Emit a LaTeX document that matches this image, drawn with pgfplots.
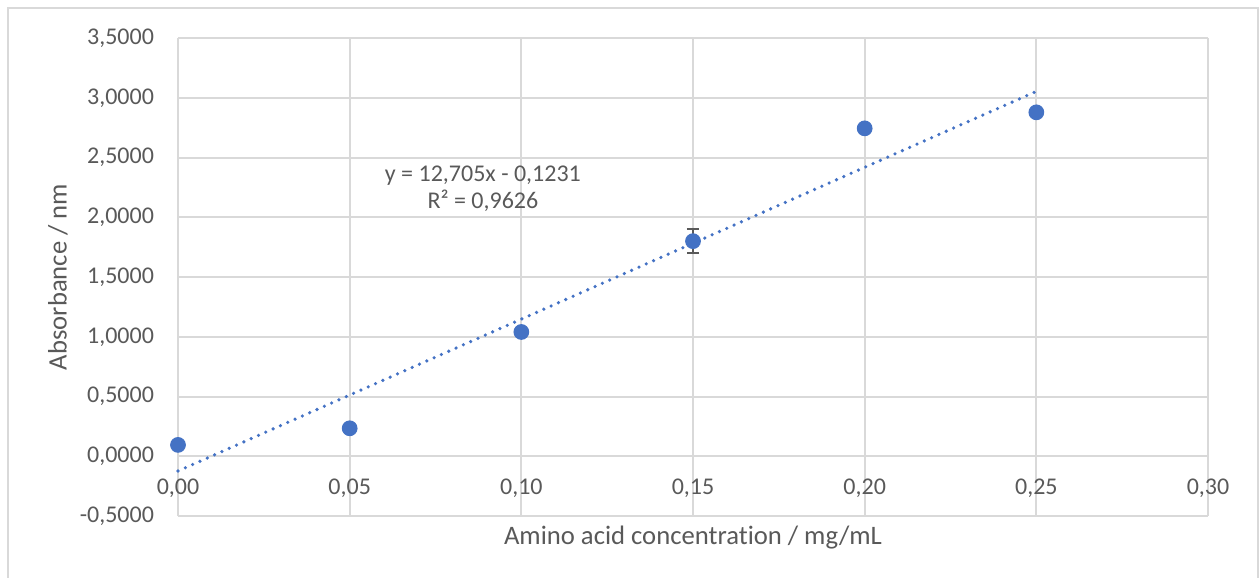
\documentclass[border=0pt]{standalone}
\usepackage{fontspec}
\setmainfont{Carlito}[Ligatures=NoCommon]
\usepackage{pgfplots}
\pgfplotsset{compat=1.18}
\definecolor{ptblue}{HTML}{4472C4}
\definecolor{txtgray}{HTML}{595959}
\definecolor{gridgray}{HTML}{D9D9D9}
\begin{document}
\begin{tikzpicture}
\useasboundingbox (0,0) rectangle (472.5pt,216.375pt);
\draw[gridgray, line width=0.75pt] (3pt,-3pt) rectangle (471.6pt,213.4pt);
\begin{axis}[
  at={(66.75pt,22.875pt)}, anchor=south west,
  scale only axis, width=386.25pt, height=179.25pt,
  xmin=0, xmax=0.3, ymin=-0.5, ymax=3.5,
  xtick={0,0.05,...,0.3}, ytick={-0.5,0,...,3.5},
  axis line style={draw=none},
  major tick length=0pt,
  grid=major,
  major grid style={gridgray, line width=0.75pt},
  tick label style={font=\fontsize{9}{11}\selectfont, text=txtgray},
  /pgf/number format/assume math mode=true,
  xticklabel style={/pgf/number format/fixed, /pgf/number format/fixed zerofill, /pgf/number format/precision=2, /pgf/number format/use comma, /pgf/number format/1000 sep={}, anchor=center, yshift=10.5pt},
  yticklabel style={/pgf/number format/fixed, /pgf/number format/fixed zerofill, /pgf/number format/precision=4, /pgf/number format/use comma, /pgf/number format/1000 sep={}, anchor=east, xshift=-5.5pt},
  every axis x label/.style={at={(axis description cs:0.5,-0.046)}, anchor=center},
  every axis y label/.style={at={(axis description cs:-0.1165,0.5)}, anchor=center, rotate=90},
  label style={font=\fontsize{10}{12}\selectfont, text=txtgray},
  xlabel={Amino acid concentration / mg/mL},
  ylabel={Absorbance / nm},
  clip=false,
]
\addplot[ptblue, line width=1.35pt, line cap=round, dash pattern=on 0pt off 3pt] coordinates {(0,-0.1231) (0.25,3.0532)};
\addplot[only marks, mark=*, mark size=2.75pt, mark options={fill=ptblue, draw=ptblue},
  error bars/.cd, y dir=both, y explicit,
  error bar style={txtgray, line width=0.6pt},
  error mark options={rotate=90, mark size=2.3pt, txtgray, line width=0.6pt}]
  coordinates {
  (0,0.095) +- (0,0)
  (0.05,0.234) +- (0,0)
  (0.10,1.040) +- (0,0)
  (0.15,1.800) +- (0,0.10)
  (0.20,2.744) +- (0,0)
  (0.25,2.878) +- (0,0)
  };
\node[align=center, font=\fontsize{9}{10.2}\selectfont, text=txtgray] at (axis cs:0.0888,2.241) {y = 12,705x - 0,1231\\R² = 0,9626};
\end{axis}
\end{tikzpicture}
\end{document}
